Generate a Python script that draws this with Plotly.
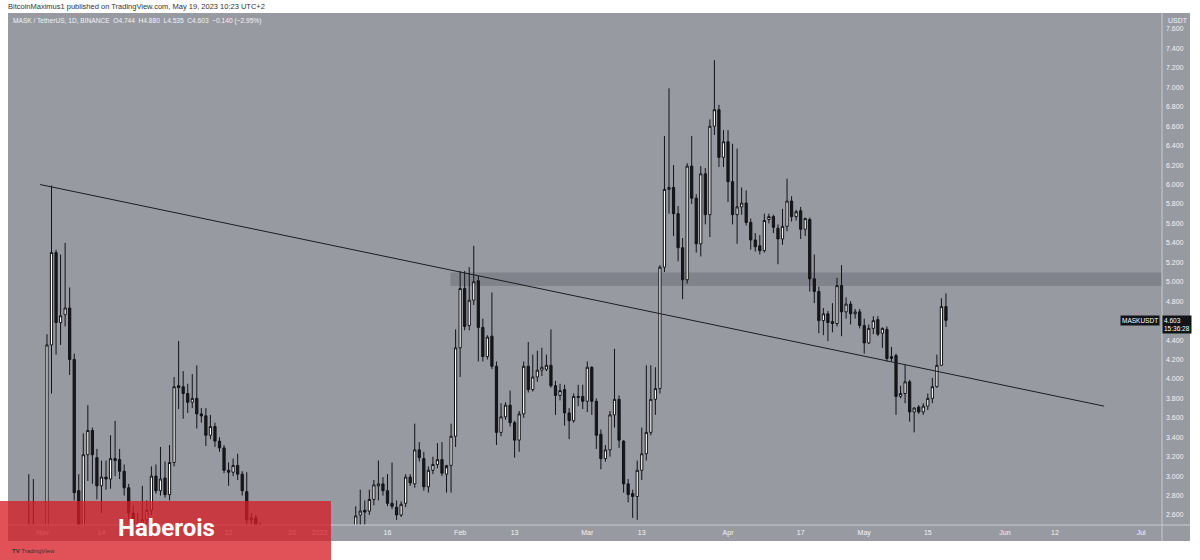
import plotly.graph_objects as go
import pandas as pd

# ---------------- data (daily MASK/USDT candles) ----------------
start_date = "2022-10-29"

opens = [
    # Oct 29-31
    2.10, 2.25, 2.15,
    # Nov
    2.20, 2.30, 4.35, 5.30, 4.58, 4.66, 4.73, 4.20, 2.85, 2.35,
    3.22, 3.47, 3.19, 2.90, 2.99, 2.97, 3.18, 3.17, 3.05, 2.88,
    2.62, 2.38, 2.45, 2.55, 2.65, 3.00, 2.85, 2.98, 2.81, 3.14,
    # Dec
    3.93, 3.92, 3.85, 3.76, 3.80, 3.64, 3.62, 3.42, 3.51, 3.36,
    3.29, 3.06, 3.04, 3.11, 3.02, 2.84, 2.55, 2.57, 2.50, 2.40,
    2.36, 2.33, 2.30, 2.35, 2.32, 2.29, 2.31, 2.24, 2.16, 2.21, 2.18,
    # Jan
    2.20, 2.25, 2.30, 2.27, 2.37, 2.33, 2.36, 2.35, 2.40, 2.60,
    2.65, 2.64, 2.76, 2.90, 2.92, 2.85, 2.72, 2.68, 2.60, 2.72,
    2.99, 2.92, 3.27, 3.18, 2.89, 3.06, 3.12, 3.17, 3.02, 3.11, 3.41,
    # Feb
    4.32, 4.93, 4.55, 4.81, 5.01, 4.53, 4.23, 4.44, 4.13, 3.45,
    3.61, 3.73, 3.55, 3.37, 3.64, 4.13, 3.89, 4.02, 4.09, 4.10,
    4.14, 3.93, 3.83, 3.89, 3.65, 3.57, 3.82, 3.82,
    # Mar
    3.77, 4.12, 3.77, 3.43, 3.18, 3.27, 3.63, 3.79, 3.36, 2.92,
    2.82, 2.79, 3.06, 3.23, 3.45, 3.79, 3.90, 5.15, 5.95, 5.97,
    5.70, 5.35, 5.02, 6.19, 5.86, 5.39, 6.11, 5.69, 6.60, 6.77, 6.28,
    # Apr
    6.44, 6.03, 5.69, 5.77, 5.81, 5.61, 5.43, 5.37, 5.32, 5.64,
    5.67, 5.55, 5.44, 5.57, 5.83, 5.67, 5.73, 5.54, 5.64, 5.03,
    4.90, 4.60, 4.67, 4.59, 4.57, 4.96, 4.69, 4.77, 4.67, 4.69,
    # May 1-19
    4.55, 4.37, 4.52, 4.61, 4.47, 4.51, 4.21, 4.24, 3.82, 3.85,
    3.97, 3.66, 3.71, 3.66, 3.72, 3.80, 3.92, 4.14, 4.744,
]

highs = [
    3.02, 2.97, 2.40,
    2.42, 4.46, 5.99, 5.33, 5.28, 5.40, 4.94, 4.26, 3.02, 3.44,
    3.73, 3.50, 3.28, 3.16, 3.16, 3.42, 3.57, 3.28, 3.12, 2.92,
    2.70, 2.62, 2.90, 2.75, 3.10, 3.12, 3.30, 3.15, 3.32, 4.02,
    4.39, 4.08, 3.95, 4.05, 4.14, 3.70, 3.70, 3.63, 3.55, 3.40,
    3.32, 3.14, 3.18, 3.23, 3.05, 3.04, 2.62, 2.60, 2.52, 2.44,
    2.42, 2.40, 2.41, 2.40, 2.38, 2.36, 2.37, 2.28, 2.25, 2.26, 2.24,
    2.27, 2.34, 2.36, 2.40, 2.41, 2.39, 2.40, 2.42, 2.69, 2.86,
    2.75, 2.86, 2.96, 3.16, 2.99, 3.02, 3.14, 2.75, 2.74, 3.02,
    3.02, 3.54, 3.35, 3.25, 3.10, 3.20, 3.34, 3.35, 3.08, 3.54, 4.51,
    5.11, 5.11, 5.15, 5.37, 5.06, 4.62, 4.45, 4.89, 4.18, 3.75,
    3.76, 3.88, 3.57, 3.67, 4.18, 4.38, 4.25, 4.29, 4.32, 4.25,
    4.51, 3.98, 3.95, 3.94, 3.70, 3.85, 3.94, 3.94,
    4.18, 4.13, 3.80, 3.48, 3.32, 3.67, 4.31, 3.83, 3.37, 2.97,
    2.86, 3.16, 3.50, 4.14, 4.14, 4.12, 5.17, 6.50, 6.99, 6.20,
    5.78, 5.45, 6.22, 6.50, 5.90, 6.19, 6.17, 6.67, 7.28, 6.82, 6.56,
    6.56, 6.42, 6.37, 5.97, 5.94, 5.65, 5.50, 5.48, 5.70, 5.70,
    5.69, 5.59, 5.75, 6.06, 5.88, 5.74, 5.77, 5.66, 5.66, 5.28,
    4.95, 4.73, 4.70, 4.78, 5.04, 5.17, 4.84, 4.80, 4.72, 4.72,
    4.62, 4.56, 4.645, 4.645, 4.53, 4.54, 4.33, 4.26, 3.93, 4.15,
    3.99, 3.71, 3.73, 3.75, 3.85, 4.01, 4.25, 4.83, 4.880,
]

lows = [
    1.95, 2.05, 2.00,
    2.10, 2.25, 3.85, 4.25, 4.35, 4.54, 4.04, 2.75, 2.25, 2.30,
    2.95, 2.92, 2.76, 2.62, 2.86, 2.87, 3.00, 2.97, 2.80, 2.55,
    2.30, 2.28, 2.40, 2.45, 2.60, 2.82, 2.80, 2.78, 2.75, 3.10,
    3.69, 3.59, 3.65, 3.70, 3.49, 3.55, 3.31, 3.38, 3.30, 3.25,
    3.03, 2.90, 3.00, 2.96, 2.80, 2.50, 2.47, 2.46, 2.35, 2.30,
    2.28, 2.25, 2.26, 2.30, 2.27, 2.24, 2.20, 2.12, 2.12, 2.14, 2.15,
    2.17, 2.21, 2.24, 2.25, 2.30, 2.26, 2.32, 2.33, 2.38, 2.48,
    2.50, 2.60, 2.70, 2.75, 2.80, 2.69, 2.66, 2.55, 2.58, 2.68,
    2.90, 2.88, 3.15, 2.85, 2.83, 3.02, 3.08, 3.00, 2.83, 2.83, 3.30,
    4.02, 4.50, 4.50, 4.76, 4.18, 4.18, 4.20, 4.10, 3.32, 3.41,
    3.58, 3.51, 3.19, 3.25, 3.60, 3.86, 3.87, 3.97, 4.03, 4.08,
    3.91, 3.63, 3.78, 3.52, 3.38, 3.55, 3.72, 3.69,
    3.66, 3.63, 3.28, 3.07, 3.15, 3.20, 3.50, 3.29, 2.83, 2.73,
    2.57, 2.55, 2.96, 3.16, 3.42, 3.63, 3.85, 5.10, 5.70, 5.47,
    5.21, 4.82, 4.98, 5.80, 5.30, 5.26, 5.59, 5.46, 6.51, 6.18, 6.18,
    5.82, 5.59, 5.39, 5.69, 5.58, 5.33, 5.31, 5.28, 5.30, 5.60,
    5.50, 5.18, 5.38, 5.52, 5.62, 5.63, 5.44, 5.47, 4.90, 4.78,
    4.47, 4.45, 4.39, 4.48, 4.54, 4.44, 4.62, 4.56, 4.62, 4.52,
    4.26, 4.36, 4.46, 4.44, 4.32, 4.18, 4.18, 3.63, 3.80, 3.75,
    3.56, 3.45, 3.64, 3.63, 3.68, 3.75, 3.91, 4.14, 4.535,
]

closes = [
    2.25, 2.15, 2.20,
    2.30, 4.35, 5.30, 4.58, 4.65, 4.73, 4.20, 2.83, 2.35, 3.22,
    3.47, 3.22, 2.90, 2.99, 2.97, 3.18, 3.16, 3.05, 2.88, 2.62,
    2.38, 2.45, 2.55, 2.65, 3.00, 2.85, 2.97, 2.81, 3.14, 3.92,
    3.91, 3.85, 3.76, 3.80, 3.64, 3.62, 3.42, 3.51, 3.36, 3.29,
    3.06, 3.04, 3.11, 3.02, 2.85, 2.55, 2.57, 2.50, 2.40, 2.36,
    2.33, 2.30, 2.35, 2.32, 2.29, 2.31, 2.24, 2.16, 2.21, 2.18, 2.20,
    2.25, 2.30, 2.27, 2.37, 2.33, 2.36, 2.35, 2.40, 2.59, 2.64,
    2.63, 2.76, 2.91, 2.92, 2.85, 2.72, 2.69, 2.60, 2.71, 2.99,
    2.93, 3.27, 3.19, 2.89, 3.06, 3.12, 3.17, 3.03, 3.11, 3.41, 4.32,
    4.93, 4.54, 4.81, 5.00, 4.53, 4.23, 4.43, 4.13, 3.45, 3.61,
    3.73, 3.55, 3.37, 3.64, 4.13, 3.89, 4.02, 4.09, 4.12, 4.14,
    3.93, 3.83, 3.88, 3.65, 3.57, 3.82, 3.81, 3.77,
    4.12, 3.77, 3.42, 3.18, 3.27, 3.63, 3.79, 3.37, 2.92, 2.81,
    2.79, 3.06, 3.23, 3.45, 3.79, 3.90, 5.15, 5.95, 5.97, 5.70,
    5.35, 5.02, 6.19, 5.86, 5.39, 6.11, 5.69, 6.60, 6.77, 6.28, 6.44,
    6.03, 5.69, 5.77, 5.81, 5.61, 5.43, 5.36, 5.32, 5.63, 5.67,
    5.56, 5.44, 5.57, 5.83, 5.67, 5.72, 5.54, 5.65, 5.03, 4.90,
    4.60, 4.67, 4.58, 4.57, 4.96, 4.69, 4.77, 4.67, 4.69, 4.55,
    4.37, 4.52, 4.60, 4.46, 4.52, 4.21, 4.23, 3.82, 3.85, 3.97,
    3.66, 3.70, 3.66, 3.72, 3.80, 3.92, 4.14, 4.744, 4.603,
]

# descending trend line (two anchor points) and resistance zone
trend_dates = ["2022-10-31 12:00", "2023-06-22 20:00"]
trend_prices = [6.00, 3.72]
zone_dates = ["2023-01-29 21:00", "2023-07-06 00:00"]
zone_prices = [4.955, 5.095]

last_price = 4.603

price_ticks = [2.6, 2.8, 3.0, 3.2, 3.4, 3.6, 3.8, 4.0, 4.2, 4.4, 4.8,
               5.0, 5.2, 5.4, 5.6, 5.8, 6.0, 6.2, 6.4, 6.6, 6.8, 7.0,
               7.2, 7.4, 7.6]
date_ticks = ["2022-11-01", "2022-11-14", "2022-12-12",
              "2022-12-26", "2023-01-01", "2023-01-16", "2023-02-01",
              "2023-02-13", "2023-03-01", "2023-03-13", "2023-04-01",
              "2023-04-17", "2023-05-01", "2023-05-15", "2023-06-01",
              "2023-06-12", "2023-07-01"]
date_labels = ["Nov", "14", "12", "26", "2023", "16", "Feb", "13",
               "Mar", "13", "Apr", "17", "May", "15", "Jun", "12", "Jul"]

# ---------------- figure ----------------
dates = pd.date_range(start_date, periods=len(opens), freq="D")

GRAY = "#989aa2"
SEP = "#c8cacf"
TXT = "#f2f3f5"
FONT = "Liberation Sans"

fig = go.Figure()

fig.add_trace(go.Candlestick(
    x=dates, open=opens, high=highs, low=lows, close=closes,
    increasing=dict(line=dict(color="#121316", width=1), fillcolor="#ffffff"),
    decreasing=dict(line=dict(color="#121316", width=1), fillcolor="#17181d"),
    whiskerwidth=0, hoverinfo="skip", showlegend=False,
))

fig.add_trace(go.Scatter(
    x=trend_dates, y=trend_prices, mode="lines",
    line=dict(color="#1c1d22", width=1), hoverinfo="skip", showlegend=False,
))

W, H = 1200, 560
ml, mr, mt, mb = 8, 38, 13, 35
pw, ph = W - ml - mr, H - mt - mb


def px_x(px):
    return (px - ml) / pw


def px_y(py):
    return (H - mb - py) / ph


shapes = [
    # resistance zone
    dict(type="rect", xref="x", yref="y", x0=zone_dates[0], x1=zone_dates[1],
         y0=zone_prices[0], y1=zone_prices[1], fillcolor="rgba(70,72,80,0.28)",
         line=dict(width=0), layer="below"),
    # price-axis band
    dict(type="rect", xref="paper", yref="paper", x0=1.0, x1=px_x(1190),
         y0=px_y(541), y1=1.0, fillcolor=GRAY, line=dict(width=0), layer="below"),
    # time-axis band
    dict(type="rect", xref="paper", yref="paper", x0=0.0, x1=px_x(1190),
         y0=px_y(541), y1=0.0, fillcolor=GRAY, line=dict(width=0), layer="below"),
    # separators
    dict(type="line", xref="paper", yref="paper", x0=1.0, x1=1.0,
         y0=px_y(541), y1=1.0, line=dict(color=SEP, width=1)),
    dict(type="line", xref="paper", yref="paper", x0=0.0, x1=px_x(1190),
         y0=0.0, y1=0.0, line=dict(color=SEP, width=1)),
    # red watermark box
    dict(type="rect", xref="paper", yref="paper", x0=px_x(0), x1=px_x(331),
         y0=px_y(560), y1=px_y(501), fillcolor="rgba(214,28,36,0.76)",
         line=dict(width=0), layer="above"),
]

annotations = [
    dict(xref="paper", yref="paper", x=px_x(6), y=px_y(6), xanchor="left",
         yanchor="middle", showarrow=False,
         text="BitcoinMaximus1 published on TradingView.com, May 19, 2023 10:23 UTC+2",
         font=dict(family=FONT, size=7.5, color="#333333")),
    dict(xref="paper", yref="paper", x=px_x(11), y=px_y(21), xanchor="left",
         yanchor="middle", showarrow=False,
         text="MASK / TetherUS, 1D, BINANCE  O4.744  H4.880  L4.535  C4.603  \u22120.140 (\u22122.95%)",
         font=dict(family=FONT, size=6.6, color=TXT)),
    dict(xref="paper", yref="paper", x=px_x(1166), y=px_y(20), xanchor="left",
         yanchor="middle", showarrow=False, text="USDT",
         font=dict(family=FONT, size=7, color=TXT)),
    dict(xref="paper", yref="y", x=px_x(1160), y=last_price, xanchor="right",
         yanchor="middle", showarrow=False, text="MASKUSDT", bgcolor="#131418",
         borderpad=1, font=dict(family=FONT, size=6.5, color="#ffffff")),
    dict(xref="paper", yref="y", x=1.0, y=last_price, xanchor="left",
         yanchor="top", yshift=5, showarrow=False, align="left",
         text="4.603<br>15:36:28", bgcolor="#131418", borderpad=1,
         font=dict(family=FONT, size=6.5, color="#ffffff")),
    dict(xref="paper", yref="paper", x=px_x(10), y=px_y(551), xanchor="left",
         yanchor="middle", showarrow=False, text="<b>TV</b> TradingView",
         font=dict(family=FONT, size=6, color="#333333")),
    dict(xref="paper", yref="paper", x=px_x(166), y=px_y(528), xanchor="center",
         yanchor="middle", showarrow=False, text="<b>Haberois</b>",
         font=dict(family="Roboto", size=24, color="#ffffff")),
]

fig.update_layout(
    width=W, height=H,
    margin=dict(l=ml, r=mr, t=mt, b=mb, pad=0),
    paper_bgcolor="#ffffff", plot_bgcolor=GRAY,
    showlegend=False, hovermode=False,
    shapes=shapes, annotations=annotations,
    xaxis=dict(
        type="date", range=["2022-10-24 10:00", "2023-07-05 14:00"],
        rangeslider=dict(visible=False), showgrid=False, zeroline=False,
        tickmode="array", tickvals=date_ticks, ticktext=date_labels,
        ticks="", ticklabelstandoff=2,
        tickfont=dict(family=FONT, size=7, color=TXT),
        fixedrange=True,
    ),
    yaxis=dict(
        side="right", range=[2.497, 7.765], showgrid=False, zeroline=False,
        tickmode="array", tickvals=price_ticks,
        ticktext=["%.3f" % v for v in price_ticks],
        ticks="", ticklabelstandoff=3,
        tickfont=dict(family=FONT, size=7, color=TXT),
        fixedrange=True,
    ),
)

# the page's default 8px body margin would shift the whole figure; remove it
fig.write_html("out.html", config={"displayModeBar": False},
               post_script="document.body.style.margin='0px';")
